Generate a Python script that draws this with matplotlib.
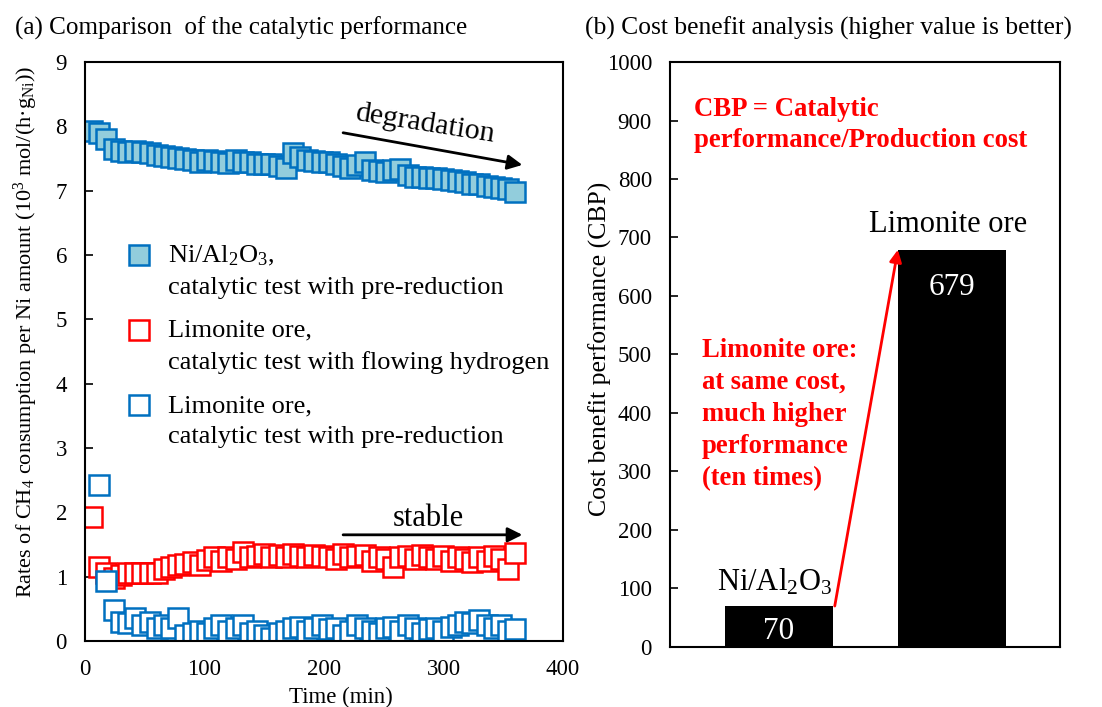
import matplotlib
matplotlib.use('Agg')
import matplotlib.pyplot as plt
from matplotlib.legend_handler import HandlerLine2D

plt.rcParams['font.family'] = ['Liberation Serif', 'DejaVu Serif']
plt.rcParams['mathtext.fontset'] = 'custom'
plt.rcParams['mathtext.rm'] = 'Liberation Serif'
plt.rcParams['mathtext.it'] = 'Liberation Serif:italic'
plt.rcParams['mathtext.bf'] = 'Liberation Serif:bold'

# time on stream (min)
time_min = [6, 12, 18, 24, 30, 36, 42, 48, 54, 60, 66, 72, 78, 84, 90, 96, 102, 108, 114, 120,
            126, 132, 138, 144, 150, 156, 162, 168, 174, 180, 186, 192, 198, 204, 210, 216, 222, 228, 234, 240,
            246, 252, 258, 264, 270, 276, 282, 288, 294, 300, 306, 312, 318, 324, 330, 336, 342, 348, 354, 360]

# CH4 consumption rates (10^3 mol/(h g_Ni))
rate_ni_al2o3 = [7.93, 7.90, 7.80, 7.65, 7.62, 7.60, 7.61, 7.60, 7.58, 7.56, 7.54, 7.52, 7.50, 7.49, 7.47, 7.45, 7.47, 7.46, 7.44, 7.43,
                 7.47, 7.45, 7.44, 7.42, 7.42, 7.41, 7.38, 7.35, 7.58, 7.52, 7.48, 7.46, 7.45, 7.44, 7.41, 7.38, 7.36, 7.40, 7.44, 7.32,
                 7.30, 7.29, 7.32, 7.34, 7.25, 7.22, 7.21, 7.20, 7.19, 7.18, 7.17, 7.15, 7.13, 7.11, 7.10, 7.08, 7.06, 7.04, 7.02, 6.98]
rate_limonite_h2 = [1.92, 1.15, 1.05, 0.98, 1.03, 1.05, 1.05, 1.05, 1.06, 1.05, 1.12, 1.15, 1.18, 1.20, 1.22, 1.18, 1.26, 1.30, 1.24, 1.30,
                    1.28, 1.38, 1.30, 1.32, 1.35, 1.30, 1.34, 1.30, 1.35, 1.32, 1.30, 1.34, 1.32, 1.30, 1.28, 1.35, 1.30, 1.32, 1.33, 1.25,
                    1.30, 1.28, 1.15, 1.30, 1.32, 1.27, 1.33, 1.30, 1.28, 1.32, 1.25, 1.30, 1.28, 1.22, 1.30, 1.25, 1.32, 1.28, 1.12, 1.36]
time_prered = time_min[1:]
rate_limonite_prered = [2.43, 0.93, 0.48, 0.30, 0.28, 0.35, 0.25, 0.30, 0.20, 0.25, 0.20, 0.35, 0.10, 0.12, 0.15, 0.12, 0.20, 0.25, 0.15,
                        0.20, 0.25, 0.12, 0.15, 0.10, 0.05, 0.12, 0.15, 0.20, 0.22, 0.15, 0.20, 0.25, 0.18, 0.20, 0.10, 0.15, 0.25, 0.20,
                        0.15, 0.12, 0.20, 0.22, 0.15, 0.25, 0.20, 0.12, 0.18, 0.20, 0.15, 0.22, 0.25, 0.30, 0.28, 0.32, 0.25, 0.20, 0.25,
                        0.15, 0.18]

series_labels = ['Ni/Al$_\\mathregular{2}$O$_\\mathregular{3}$,\ncatalytic test with pre-reduction',
                 'Limonite ore,\ncatalytic test with flowing hydrogen',
                 'Limonite ore,\ncatalytic test with pre-reduction']

# cost benefit performance
cbp_names = ['Ni/Al$_\\mathregular{2}$O$_\\mathregular{3}$', 'Limonite ore']
cbp_values = [70, 679]

BLUE = '#0070C0'
LIGHTBLUE = '#92CDDC'
RED = '#FF0000'
FS = 16.5
LEG_FS = 19
LEG_LS = 1.53


class FirstLineHandler(HandlerLine2D):
    # put the legend marker next to the first line of a two-line label
    def create_artists(self, legend, orig_handle, xdescent, ydescent, width, height, fontsize, trans):
        artists = super().create_artists(legend, orig_handle, xdescent, ydescent, width, height, fontsize, trans)
        for a in artists:
            a.set_ydata([y + 0.5 * LEG_LS * fontsize - 3 for y in a.get_ydata()])
        return artists


fig = plt.figure(figsize=(11.02, 7.07), dpi=100)
ax1 = fig.add_axes([0.0771, 0.0934, 0.4338, 0.8189])
ax2 = fig.add_axes([0.6080, 0.0849, 0.3539, 0.8274])

mk = dict(linestyle='none', marker='s', markersize=14.5, markeredgewidth=1.8)
ax1.plot(time_min, rate_ni_al2o3, color=BLUE, markerfacecolor=LIGHTBLUE, markeredgecolor=BLUE,
         label=series_labels[0], **mk)
ax1.plot(time_min, rate_limonite_h2, markerfacecolor='white', markeredgecolor=RED,
         label=series_labels[1], **mk)
ax1.plot(time_prered, rate_limonite_prered, markerfacecolor='white', markeredgecolor=BLUE,
         label=series_labels[2], **mk)

ax1.set_xlim(0, 400)
ax1.set_ylim(0, 9)
ax1.set_xticks([0, 100, 200, 300, 400])
ax1.set_yticks(range(0, 10))
ax1.tick_params(direction='in', length=6, width=1.2, labelsize=FS, pad=13)
for s in ax1.spines.values():
    s.set_linewidth(1.5)
ax1.set_xlabel('Time (min)', fontsize=FS)
ax1.xaxis.set_label_coords(0.536, -0.079)
ax1.set_ylabel('Rates of CH$_\\mathregular{4}$ consumption per Ni amount '
               '(10$^\\mathregular{3}$ mol/(h·g$_\\mathregular{Ni}$))', fontsize=16)
ax1.yaxis.set_label_coords(-0.095, 0.534)

leg = ax1.legend(loc='upper left', bbox_to_anchor=(0.085, 0.686), frameon=False, fontsize=LEG_FS,
                 handlelength=1.0, handletextpad=0.6, labelspacing=0.79, borderpad=0, borderaxespad=0,
                 handler_map={plt.Line2D: FirstLineHandler(numpoints=1)})
for t in leg.get_texts():
    t.set_linespacing(LEG_LS)

arrow = dict(arrowstyle='-|>', color='black', lw=2, mutation_scale=22, shrinkA=0, shrinkB=0)
ax1.annotate('', xy=(366, 7.4), xytext=(216, 7.9), arrowprops=arrow)
ax1.text(285, 8.03, 'degradation', fontsize=21.5, rotation=-9, ha='center', va='center')
ax1.annotate('', xy=(366, 1.65), xytext=(216, 1.65), arrowprops=arrow)
ax1.text(287, 1.90, 'stable', fontsize=22, ha='center', va='center')

# cost benefit bars
xpos = range(len(cbp_values))
bars = ax2.bar(xpos, cbp_values, width=0.625, color='black')
ax2.set_xlim(-0.63, 1.625)
ax2.set_ylim(0, 1000)
ax2.set_yticks(range(0, 1001, 100))
ax2.set_xticks([])
ax2.tick_params(direction='in', length=6, width=1.2, labelsize=FS, pad=13)
for s in ax2.spines.values():
    s.set_linewidth(1.5)
ax2.set_ylabel('Cost benefit performance (CBP)', fontsize=18.5)
ax2.yaxis.set_label_coords(-0.15, 0.51)

value_offsets = [-8, -16.5]
name_offsets = [11, 13]
for x, v, name, off, noff in zip(xpos, cbp_values, cbp_names, value_offsets, name_offsets):
    ax2.annotate(str(v), xy=(x, v), xytext=(0, off), textcoords='offset points',
                 ha='center', va='top', color='white', fontsize=22.5)
    ax2.annotate(name, xy=(x, v), xytext=(-3, noff), textcoords='offset points',
                 ha='center', va='baseline', color='black', fontsize=22)

ax2.annotate('', xy=(1 - 0.3125, cbp_values[1]), xytext=(0.3125 + 0.01, cbp_values[0]),
             arrowprops=dict(arrowstyle='-|>', color=RED, lw=2, mutation_scale=18, shrinkA=0, shrinkB=0))

ax2.text(0.062, 0.94, 'CBP = Catalytic\nperformance/Production cost', transform=ax2.transAxes,
         color=RED, fontweight='bold', fontsize=19.3, va='top', ha='left', linespacing=1.3)
ax2.text(0.081, 0.528, 'Limonite ore:\nat same cost,\nmuch higher\nperformance\n(ten times)',
         transform=ax2.transAxes, color=RED, fontweight='bold', fontsize=19.2, va='top', ha='left',
         linespacing=1.37)

fig.text(15 / 1102, 1 - 28 / 707, '(a) Comparison  of the catalytic performance', fontsize=18.1, va='center')
fig.text(585 / 1102, 1 - 28 / 707, '(b) Cost benefit analysis (higher value is better)', fontsize=18.4, va='center')

fig.savefig('out.png', dpi=100)
